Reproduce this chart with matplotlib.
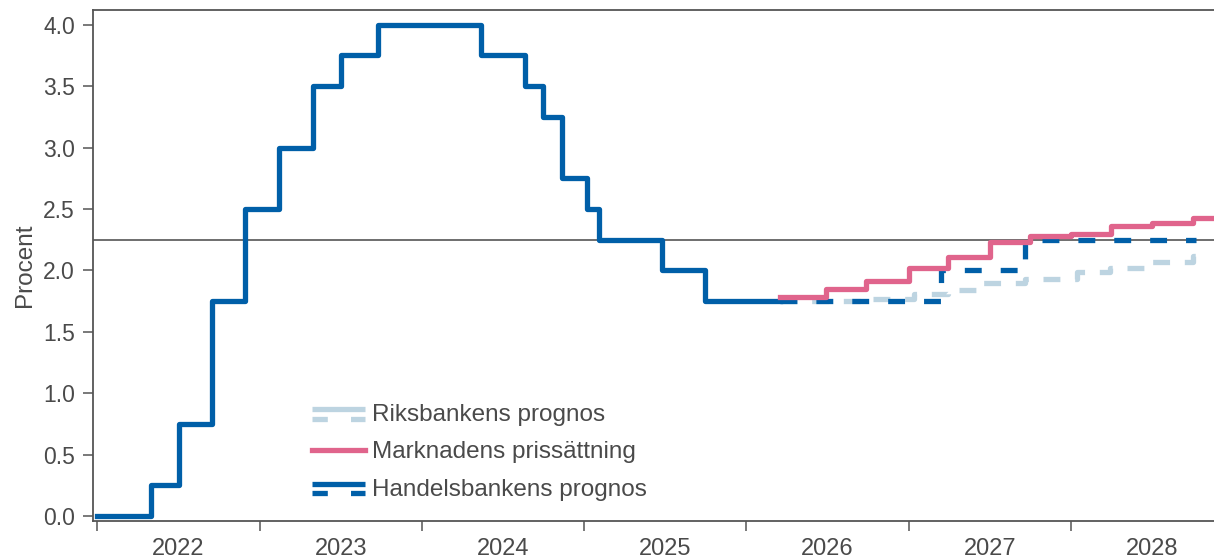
import matplotlib
matplotlib.use('Agg')
import matplotlib.pyplot as plt
from matplotlib.lines import Line2D
from matplotlib.legend_handler import HandlerBase

plt.rcParams['font.family'] = ['Liberation Sans', 'DejaVu Sans']

# Styrränta (utfall) - trappsteg
hist_x = [2022.0, 2022.333, 2022.503, 2022.709, 2022.908, 2023.12, 2023.329, 2023.504,
          2023.73, 2024.367, 2024.634, 2024.747, 2024.861, 2025.015, 2025.092, 2025.477,
          2025.744, 2026.207]
hist_y = [0.0, 0.25, 0.75, 1.75, 2.5, 3.0, 3.5, 3.75, 4.0, 3.75, 3.5, 3.25, 2.75, 2.5,
          2.25, 2.0, 1.75, 1.75]

# Handelsbankens prognos
hb_x = [2026.207, 2027.2, 2027.72, 2028.77]
hb_y = [1.75, 2.0, 2.25, 2.25]

# Marknadens prissättning
mkt_x = [2026.207, 2026.49, 2026.74, 2027.0, 2027.24, 2027.5, 2027.75, 2028.0, 2028.25,
         2028.5, 2028.75, 2029.0]
mkt_y = [1.78, 1.85, 1.91, 2.02, 2.11, 2.23, 2.28, 2.30, 2.36, 2.39, 2.43, 2.43]

# Riksbankens prognos
rb_x = [2026.207, 2026.71, 2027.03, 2027.24, 2027.44, 2027.72, 2028.04, 2028.24, 2028.5,
        2028.75, 2028.77]
rb_y = [1.75, 1.77, 1.81, 1.84, 1.90, 1.93, 1.99, 2.02, 2.07, 2.12, 2.12]

years = [2022, 2023, 2024, 2025, 2026, 2027, 2028]
ref_level = 2.25

BLUE = '#005fa8'
PINK = '#e0648c'
LIGHT = '#bdd4e1'
GREY = '#555555'
TXT = '#4a4a4a'
LW = 3.8


class PairHandle:
    def __init__(self, color):
        self.color = color


class PairHandler(HandlerBase):
    # solid line over a dashed line, like the reference legend
    def create_artists(self, legend, orig_handle, xdescent, ydescent, width, height,
                       fontsize, trans):
        yc = height / 2 - ydescent - 1.0
        top = Line2D([-xdescent, width - xdescent], [yc + 3.4, yc + 3.4],
                     color=orig_handle.color, lw=LW, solid_capstyle='butt')
        bot = Line2D([-xdescent, width - xdescent], [yc - 3.4, yc - 3.4],
                     color=orig_handle.color, lw=LW, dash_capstyle='butt')
        bot.set_dashes((2.9, 4.4))
        top.set_transform(trans)
        bot.set_transform(trans)
        return [top, bot]


fig = plt.figure(figsize=(12.14, 5.6), dpi=100)
ax = fig.add_axes([93 / 1214, 1 - 521 / 560, 1 - 93 / 1214, (521 - 10) / 560])

ax.axhline(ref_level, color=GREY, lw=1.2, zorder=1)

ax.plot(hist_x, hist_y, drawstyle='steps-post', color=BLUE, lw=LW, zorder=3)
hb_line, = ax.plot(hb_x, hb_y, drawstyle='steps-post', color=BLUE, lw=LW, zorder=3)
hb_line.set_dashes((3.2, 3.6))
rb_line, = ax.plot(rb_x, rb_y, drawstyle='steps-post', color=LIGHT, lw=LW, zorder=2)
rb_line.set_dashes((3.2, 2.8))
mkt_line, = ax.plot(mkt_x, mkt_y, drawstyle='steps-post', color=PINK, lw=LW, zorder=4)

ax.set_xlim(2021.973, 2028.882)
ax.set_ylim(-0.04, 4.12)

ax.set_yticks([0, 0.5, 1.0, 1.5, 2.0, 2.5, 3.0, 3.5, 4.0])
ax.set_yticklabels([f'{v:.1f}' for v in [0, 0.5, 1.0, 1.5, 2.0, 2.5, 3.0, 3.5, 4.0]])
ax.set_xticks(years)
ax.set_xticklabels([])
ax.set_xticks([y + 0.5 for y in years], minor=True)
ax.set_xticklabels([str(y) for y in years], minor=True)

ax.tick_params(axis='y', direction='out', length=7, width=1.1, color=GREY,
               labelcolor=TXT, labelsize=16.5, pad=6)
ax.tick_params(axis='x', which='major', direction='out', length=7, width=1.1, color=GREY)
ax.tick_params(axis='x', which='minor', length=0, labelcolor=TXT, labelsize=17, pad=12)

for side in ['left', 'bottom', 'top']:
    ax.spines[side].set_color(GREY)
    ax.spines[side].set_linewidth(1.3)
ax.spines['right'].set_visible(False)

ax.set_ylabel('Procent', fontsize=17.5, color=TXT, labelpad=5)

handles = [PairHandle(LIGHT), mkt_line, PairHandle(BLUE)]
labels = ['Riksbankens prognos', 'Marknadens prissättning', 'Handelsbankens prognos']
leg = ax.legend(handles, labels, handler_map={PairHandle: PairHandler()},
                loc='upper left', bbox_to_anchor=(0.195, 0.229), frameon=False,
                fontsize=17.5, handlelength=2.18, handletextpad=0.3, labelspacing=0.63,
                borderpad=0, borderaxespad=0)
for t in leg.get_texts():
    t.set_color(TXT)

fig.savefig('out.png', dpi=100)
